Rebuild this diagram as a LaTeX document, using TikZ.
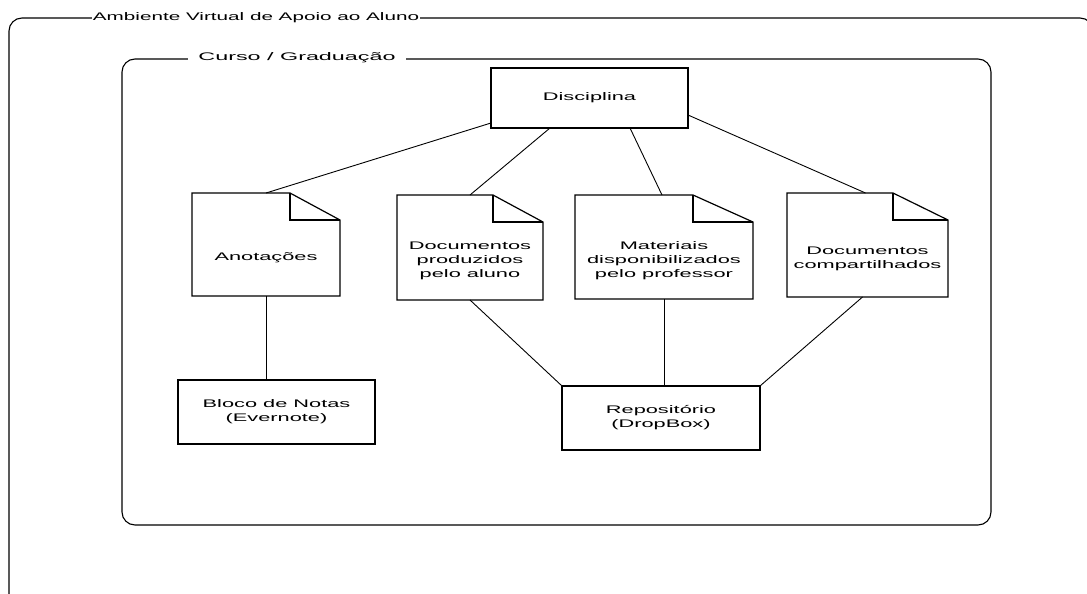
\documentclass[tikz,border=0pt]{standalone}
\usepackage{fontspec}
\newfontfamily\dfont[FakeStretch=1.98]{Liberation Sans}
\newfontfamily\tfont[FakeStretch=2.12]{Liberation Sans}
\newfontfamily\afont[FakeStretch=1.88]{Liberation Sans}
\begin{document}
\begin{tikzpicture}[x=1pt,y=-1pt,
  every node/.style={font=\dfont\fontsize{11}{14}\selectfont},
  frame/.style={draw=black,line width=1.1pt,rounded corners=13pt},
  box/.style={draw=black,line width=1.2pt,fill=white,inner sep=0pt,outer sep=0pt,align=center},
  docbody/.style={inner sep=0pt,outer sep=0pt,align=center},
  docline/.style={draw=black,line width=1.2pt,line join=miter},
  conn/.style={draw=black,line width=0.9pt},
  ttl/.style={fill=white,inner ysep=1pt,font=\tfont\fontsize{11}{14}\selectfont}]
\useasboundingbox (0,0) rectangle (1087,594);
\clip (0,0) rectangle (1087,594);
\fill[white] (0,0) rectangle (1087,594);
% outer frame
\draw[frame] (9,603) -- (9,18) -- (1093,18) -- (1093,603);
\node[ttl,inner xsep=1pt,font=\afont\fontsize{11}{14}\selectfont] (t1) at (256,18) {Ambiente Virtual de Apoio ao Aluno};
% inner frame
\draw[frame] (122,59) rectangle (991,525);
\node[ttl,inner xsep=10pt] (t2) at (297,58) {Curso / Graduação};
% nodes
\node[box,minimum width=197pt,minimum height=60pt] (dis) at (589.5,98) {Disciplina};
\node[docbody,minimum width=148pt,minimum height=76pt] (an) at (266,258) {Anotações};
\node[docbody,minimum width=146pt,minimum height=78pt] (d1) at (470,261) {Documentos\\produzidos\\pelo aluno};
\node[docbody,minimum width=178pt,minimum height=77pt] (mat) at (664,260.5) {Materiais\\disponibilizados\\pelo professor};
\node[docbody,minimum width=161pt,minimum height=77pt] (dc) at (867.5,258.5) {Documentos\\compartilhados};
\node[box,minimum width=197pt,minimum height=64pt] (bl) at (276.5,412) {Bloco de Notas\\(Evernote)};
\node[box,minimum width=198pt,minimum height=64pt] (rep) at (661,418) {Repositório\\(DropBox)};
% document outlines
\newcommand\docoutline[3]{%
  \draw[docline] (#1.south west) -- ([yshift=#3]#1.north west) -- ([xshift=-#2,yshift=#3]#1.north east) -- (#1.north east) -- (#1.south east) -- cycle;
  \draw[docline] ([xshift=-#2,yshift=#3]#1.north east) -- ([xshift=-#2]#1.north east) -- (#1.north east);}
\docoutline{an}{50pt}{27pt}
\docoutline{d1}{50pt}{27pt}
\docoutline{mat}{60pt}{27pt}
\docoutline{dc}{55pt}{27pt}
% connectors
\draw[conn] ([yshift=-25pt]dis.west) -- ([yshift=27pt]an.north);
\draw[conn] ([xshift=59pt]dis.south west) -- ([yshift=27pt]d1.north);
\draw[conn] ([xshift=139pt]dis.south west) -- ([xshift=-2pt,yshift=27pt]mat.north);
\draw[conn] ([yshift=-17pt]dis.east) -- ([xshift=-2pt,yshift=27pt]dc.north);
\draw[conn] (an.south) -- (an.south |- bl.north);
\draw[conn] (d1.south) -- (rep.north west);
\draw[conn] (mat.south) -- (mat.south |- rep.north);
\draw[conn] ([xshift=-5pt]dc.south) -- (rep.north east);
\end{tikzpicture}
\end{document}
